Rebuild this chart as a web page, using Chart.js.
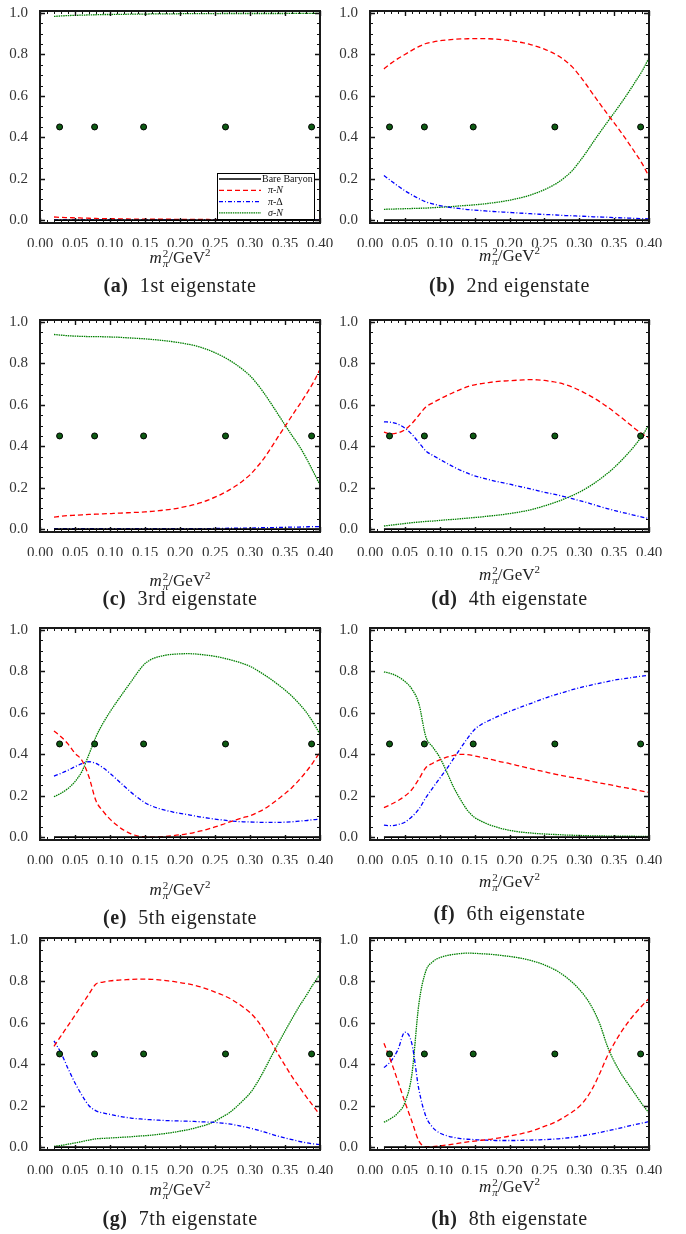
<!DOCTYPE html>
<html lang="en">
<head>
    <meta charset="UTF-8">
    <title>Eigenstate composition</title>
    <script src="https://cdn.jsdelivr.net/npm/chart.js"></script>
    <style>
        body {
            margin: 0;
            background: #fff;
        }
        #fig {
            position: relative;
            width: 686px;
            height: 1234px;
            overflow: hidden;
            font-family: "Liberation Serif", serif;
            color: #222;
        }
        #fig canvas {
            position: absolute;
        }
        .xt, .cap {
            position: absolute;
            text-align: center;
            white-space: nowrap;
            transform: translateY(-50%);
        }
        .xt {
            font-size: 17px;
            line-height: 20px;
        }
        .xt .ss {
            display: inline-block;
            vertical-align: -4px;
            font-size: 11px;
            line-height: 10px;
            text-align: left;
            margin-left: 1px;
        }
        .xt sup {
            font-size: 11px;
            line-height: 0;
            vertical-align: 7px;
        }
        .cap {
            font-size: 20px;
            line-height: 22px;
            letter-spacing: 0.6px;
        }
    </style>
</head>
<body>
<div id="fig"></div>
<script>
// m_pi^2 grid (GeV^2)
const mpi2 = [0.02,0.03,0.04,0.05,0.06,0.07,0.08,0.09,0.10,0.11,0.12,0.13,0.14,0.15,0.16,0.17,0.18,0.19,0.20,0.21,
              0.22,0.23,0.24,0.25,0.26,0.27,0.28,0.29,0.30,0.31,0.32,0.33,0.34,0.35,0.36,0.37,0.38,0.39,0.40];
const bareBaryon = [0,0,0,0,0,0,0,0,0,0,0,0,0,0,0,0,0,0,0,0,0,0,0,0,0,0,0,0,0,0,0,0,0,0,0,0,0,0,0];

// lattice points
const latticeMpi2 = [0.028, 0.078, 0.148, 0.265, 0.388];
const latticeY = [0.45, 0.45, 0.45, 0.45, 0.45];

const xTicks = [0.00, 0.05, 0.10, 0.15, 0.20, 0.25, 0.30, 0.35, 0.40];
const yTicks = [0.0, 0.2, 0.4, 0.6, 0.8, 1.0];

// (a) 1st eigenstate
const piN_a = [0.015,0.013,0.012,0.011,0.010,0.009,0.008,0.007,0.007,0.006,0.006,0.005,0.005,0.005,0.004,0.004,0.004,0.004,0.003,0.003,
               0.003,0.003,0.003,0.002,0.002,0.002,0.002,0.002,0.002,0.002,0.002,0.001,0.001,0.001,0.001,0.001,0.001,0.001,0.001];
const piDelta_a = [0.001,0.001,0.001,0.001,0.001,0.001,0.001,0.001,0.001,0.001,0.001,0.001,0.001,0.001,0.001,0.001,0.001,0.001,0.001,0.001,
                   0.001,0.001,0.001,0.001,0.001,0.001,0.001,0.001,0.001,0.001,0.001,0.001,0.001,0.001,0.001,0.001,0.001,0.001,0.001];
const sigmaN_a = [0.984,0.986,0.988,0.989,0.990,0.991,0.992,0.993,0.993,0.994,0.994,0.995,0.995,0.995,0.996,0.996,0.996,0.996,0.997,0.997,
                  0.997,0.997,0.997,0.997,0.998,0.998,0.998,0.998,0.998,0.998,0.998,0.998,0.998,0.998,0.999,0.999,0.999,0.999,0.999];

// (b) 2nd eigenstate
const piN_b = [0.730,0.757,0.780,0.800,0.820,0.838,0.853,0.860,0.866,0.870,0.873,0.875,0.876,0.877,0.877,0.876,0.874,0.871,0.867,0.862,
               0.856,0.848,0.838,0.826,0.811,0.793,0.770,0.740,0.700,0.655,0.607,0.560,0.514,0.470,0.424,0.376,0.326,0.274,0.210];
const piDelta_b = [0.215,0.190,0.165,0.142,0.122,0.104,0.088,0.078,0.070,0.064,0.059,0.055,0.051,0.048,0.046,0.043,0.041,0.039,0.037,0.035,
                   0.033,0.031,0.029,0.027,0.026,0.024,0.022,0.021,0.019,0.018,0.016,0.015,0.014,0.012,0.011,0.010,0.008,0.007,0.006];
const sigmaN_b = [0.052,0.053,0.054,0.055,0.056,0.057,0.058,0.060,0.062,0.064,0.066,0.069,0.071,0.074,0.077,0.081,0.085,0.090,0.096,0.103,
                  0.111,0.121,0.133,0.147,0.163,0.183,0.208,0.239,0.281,0.327,0.377,0.425,0.472,0.518,0.565,0.614,0.666,0.719,0.784];

// (c) 3rd eigenstate
const piN_c = [0.058,0.062,0.065,0.067,0.069,0.071,0.072,0.074,0.075,0.077,0.078,0.080,0.081,0.083,0.086,0.089,0.093,0.097,0.103,0.110,
               0.118,0.128,0.140,0.154,0.170,0.188,0.209,0.234,0.262,0.300,0.342,0.392,0.445,0.496,0.548,0.598,0.650,0.705,0.772];
const piDelta_c = [0.002,0.002,0.002,0.002,0.002,0.002,0.002,0.002,0.002,0.002,0.002,0.002,0.002,0.002,0.002,0.002,0.002,0.002,0.002,0.002,
                   0.002,0.002,0.002,0.003,0.003,0.004,0.004,0.005,0.005,0.006,0.007,0.007,0.008,0.009,0.010,0.010,0.011,0.012,0.012];
const sigmaN_c = [0.940,0.937,0.934,0.932,0.931,0.930,0.930,0.929,0.928,0.927,0.925,0.923,0.921,0.919,0.916,0.913,0.909,0.905,0.900,0.894,
                  0.887,0.878,0.866,0.852,0.836,0.817,0.795,0.770,0.741,0.702,0.657,0.607,0.555,0.503,0.452,0.403,0.345,0.280,0.213];

// (d) 4th eigenstate
const piN_d = [0.468,0.460,0.465,0.480,0.510,0.550,0.590,0.610,0.628,0.645,0.660,0.675,0.688,0.697,0.703,0.708,0.712,0.715,0.717,0.719,
               0.721,0.722,0.721,0.718,0.713,0.707,0.698,0.686,0.671,0.654,0.635,0.614,0.591,0.566,0.540,0.513,0.485,0.460,0.440];
const piDelta_d = [0.518,0.516,0.507,0.488,0.458,0.418,0.378,0.356,0.337,0.318,0.300,0.284,0.270,0.257,0.248,0.239,0.231,0.224,0.217,0.209,
                   0.202,0.194,0.186,0.178,0.171,0.164,0.156,0.147,0.138,0.129,0.119,0.109,0.099,0.090,0.082,0.074,0.066,0.058,0.051];
const sigmaN_d = [0.015,0.019,0.023,0.027,0.031,0.034,0.037,0.039,0.042,0.045,0.047,0.050,0.053,0.056,0.059,0.063,0.066,0.070,0.075,0.080,
                  0.086,0.093,0.102,0.112,0.123,0.134,0.148,0.162,0.178,0.197,0.218,0.242,0.268,0.297,0.330,0.366,0.405,0.450,0.505];

// (e) 5th eigenstate
const piN_e = [0.513,0.485,0.450,0.405,0.370,0.290,0.175,0.125,0.087,0.057,0.033,0.016,0.005,0.001,0.000,0.001,0.004,0.007,0.011,0.016,
               0.022,0.030,0.039,0.049,0.060,0.072,0.083,0.094,0.103,0.118,0.135,0.158,0.183,0.210,0.240,0.275,0.315,0.360,0.411];
const piDelta_e = [0.295,0.308,0.323,0.340,0.355,0.364,0.356,0.335,0.308,0.278,0.247,0.217,0.190,0.166,0.150,0.138,0.129,0.121,0.115,0.109,
                   0.103,0.097,0.092,0.087,0.083,0.079,0.076,0.074,0.073,0.072,0.071,0.071,0.071,0.072,0.074,0.077,0.080,0.084,0.087];
const sigmaN_e = [0.195,0.212,0.235,0.268,0.318,0.400,0.485,0.550,0.605,0.655,0.703,0.750,0.798,0.838,0.860,0.872,0.879,0.883,0.885,0.886,
                  0.885,0.882,0.878,0.873,0.866,0.858,0.849,0.838,0.825,0.806,0.785,0.762,0.737,0.710,0.680,0.645,0.605,0.555,0.497];

// (f) 6th eigenstate
const piN_f = [0.142,0.158,0.176,0.198,0.230,0.280,0.335,0.357,0.373,0.386,0.395,0.400,0.398,0.392,0.385,0.378,0.370,0.362,0.355,0.347,
               0.339,0.331,0.323,0.316,0.308,0.301,0.294,0.288,0.282,0.275,0.268,0.261,0.255,0.249,0.242,0.236,0.229,0.222,0.216];
const piDelta_f = [0.058,0.055,0.060,0.072,0.098,0.135,0.190,0.238,0.284,0.330,0.380,0.430,0.478,0.520,0.545,0.562,0.578,0.593,0.607,0.620,
                   0.633,0.645,0.658,0.670,0.682,0.692,0.702,0.712,0.721,0.729,0.737,0.744,0.751,0.758,0.763,0.768,0.773,0.778,0.782];
const sigmaN_f = [0.798,0.790,0.775,0.752,0.715,0.645,0.485,0.435,0.385,0.315,0.240,0.180,0.128,0.095,0.076,0.061,0.050,0.040,0.033,0.027,
                  0.023,0.020,0.017,0.015,0.013,0.012,0.010,0.009,0.008,0.007,0.006,0.006,0.005,0.005,0.004,0.004,0.004,0.003,0.003];

// (g) 7th eigenstate
const piN_g = [0.487,0.537,0.587,0.637,0.688,0.740,0.788,0.797,0.803,0.806,0.808,0.810,0.811,0.811,0.810,0.808,0.804,0.800,0.795,0.789,
               0.782,0.773,0.762,0.749,0.736,0.720,0.700,0.677,0.650,0.613,0.565,0.510,0.450,0.395,0.340,0.292,0.245,0.200,0.155];
const piDelta_g = [0.513,0.455,0.380,0.310,0.250,0.200,0.175,0.165,0.158,0.151,0.145,0.140,0.137,0.134,0.132,0.130,0.128,0.127,0.126,0.125,
                   0.124,0.122,0.121,0.119,0.116,0.112,0.106,0.099,0.092,0.083,0.073,0.063,0.053,0.044,0.036,0.028,0.021,0.016,0.012];
const sigmaN_g = [0.004,0.008,0.014,0.020,0.027,0.034,0.040,0.042,0.044,0.046,0.048,0.050,0.053,0.055,0.058,0.062,0.066,0.071,0.077,0.083,
                  0.091,0.100,0.110,0.125,0.145,0.165,0.193,0.225,0.260,0.310,0.370,0.435,0.498,0.560,0.620,0.678,0.730,0.785,0.835];

// (h) 8th eigenstate
const piN_h = [0.502,0.415,0.318,0.218,0.125,0.030,0.002,0.002,0.006,0.010,0.015,0.020,0.025,0.029,0.033,0.037,0.042,0.047,0.053,0.060,
               0.067,0.076,0.087,0.100,0.112,0.128,0.148,0.170,0.196,0.235,0.290,0.360,0.438,0.500,0.555,0.603,0.645,0.683,0.718];
const piDelta_h = [0.384,0.415,0.470,0.555,0.500,0.280,0.150,0.095,0.068,0.055,0.047,0.041,0.038,0.036,0.034,0.033,0.032,0.032,0.032,0.032,
                   0.033,0.034,0.035,0.036,0.038,0.040,0.043,0.047,0.052,0.058,0.064,0.071,0.078,0.085,0.093,0.101,0.109,0.116,0.123];
const sigmaN_h = [0.120,0.138,0.165,0.215,0.350,0.690,0.850,0.895,0.915,0.925,0.931,0.935,0.937,0.936,0.934,0.932,0.929,0.925,0.921,0.916,
                  0.910,0.902,0.892,0.880,0.865,0.847,0.824,0.796,0.762,0.720,0.665,0.590,0.490,0.415,0.355,0.305,0.257,0.208,0.165];

const panels = [
    { tag: 'a', text: '1st eigenstate', piN: piN_a, piDelta: piDelta_a, sigmaN: sigmaN_a, legend: true },
    { tag: 'b', text: '2nd eigenstate', piN: piN_b, piDelta: piDelta_b, sigmaN: sigmaN_b },
    { tag: 'c', text: '3rd eigenstate', piN: piN_c, piDelta: piDelta_c, sigmaN: sigmaN_c },
    { tag: 'd', text: '4th eigenstate', piN: piN_d, piDelta: piDelta_d, sigmaN: sigmaN_d },
    { tag: 'e', text: '5th eigenstate', piN: piN_e, piDelta: piDelta_e, sigmaN: sigmaN_e },
    { tag: 'f', text: '6th eigenstate', piN: piN_f, piDelta: piDelta_f, sigmaN: sigmaN_f },
    { tag: 'g', text: '7th eigenstate', piN: piN_g, piDelta: piDelta_g, sigmaN: sigmaN_g },
    { tag: 'h', text: '8th eigenstate', piN: piN_h, piDelta: piDelta_h, sigmaN: sigmaN_h }
];

// page layout
const colLeft = [40, 370];
const colWidth = [280, 279];
const rowTop = [8, 317, 625, 935];
const plotH = 215;
const titleY = [258, 256, 581, 575, 890, 882, 1190, 1187];
const captionY = [285, 285, 598, 598, 917, 913, 1218, 1218];

const tickFont = { family: 'Liberation Serif', size: 15 };

const legendParts = [
    [['Bare Baryon', '']],
    [['π', 'italic '], ['-', ''], ['N', 'italic ']],
    [['π', 'italic '], ['-', ''], ['Δ', '']],
    [['σ', 'italic '], ['-', ''], ['N', 'italic ']]
];

function drawLegend(chart) {
    const { ctx, chartArea: a } = chart;
    const bx = Math.round(a.right - 103), by = Math.round(a.bottom - 50), bw = 97, bh = 46;
    ctx.fillStyle = '#fff';
    ctx.fillRect(bx, by, bw, bh);
    ctx.setLineDash([]);
    ctx.lineWidth = 1;
    ctx.strokeStyle = '#000';
    ctx.strokeRect(bx + 0.5, by + 0.5, bw, bh);
    const sets = chart.data.datasets.slice(1);
    sets.forEach((ds, k) => {
        const ly = by + 6 + k * 11.3;
        ctx.setLineDash(ds.borderDash || []);
        ctx.strokeStyle = ds.borderColor;
        ctx.lineWidth = ds.borderWidth;
        ctx.beginPath();
        ctx.moveTo(bx + 2, ly);
        ctx.lineTo(bx + 44, ly);
        ctx.stroke();
        let tx = bx + (k === 0 ? 45 : 51);
        ctx.fillStyle = '#111';
        ctx.textBaseline = 'middle';
        legendParts[k].forEach(([s, style]) => {
            ctx.font = style + '10px "Liberation Serif"';
            ctx.fillText(s, tx, ly + 0.5);
            tx += ctx.measureText(s).width;
        });
    });
    ctx.setLineDash([]);
}

// frame with inward ticks on all four sides
const frame = {
    id: 'frame',
    afterDatasetsDraw(chart, args, opts) {
        const { ctx, chartArea: a, scales: { x, y } } = chart;
        ctx.save();
        ctx.setLineDash([]);
        ctx.strokeStyle = '#111';
        [false, true].forEach(major => {
            ctx.lineWidth = major ? 1.4 : 1;
            ctx.beginPath();
            for (let i = 0; i <= 40; i++) {
                if ((i % 5 === 0) !== major) continue;
                const len = major ? 5 : 3;
                const px = Math.round(x.getPixelForValue(i / 100)) + 0.5;
                ctx.moveTo(px, a.bottom); ctx.lineTo(px, a.bottom - len);
                ctx.moveTo(px, a.top); ctx.lineTo(px, a.top + len);
            }
            for (let i = 0; i <= 20; i++) {
                if ((i % 4 === 0) !== major) continue;
                const len = major ? 5 : 3;
                const py = Math.round(y.getPixelForValue(i * 0.05)) + 0.5;
                ctx.moveTo(a.left, py); ctx.lineTo(a.left + len, py);
                ctx.moveTo(a.right, py); ctx.lineTo(a.right - len, py);
            }
            ctx.stroke();
        });
        ctx.lineWidth = 2;
        ctx.strokeStyle = '#1a1a1a';
        ctx.strokeRect(a.left, a.top, a.right - a.left, a.bottom - a.top);
        if (opts.legend) drawLegend(chart);
        ctx.restore();
    }
};

function pts(ys) {
    return mpi2.map((x, k) => ({ x: x, y: ys[k] }));
}

const fig = document.getElementById('fig');

panels.forEach((p, i) => {
    const col = i % 2, row = Math.floor(i / 2);
    const W = 40 + colWidth[col] + 18, H = 10 + plotH + 24;
    const canvas = document.createElement('canvas');
    canvas.width = W;
    canvas.height = H;
    canvas.style.left = (colLeft[col] - 40) + 'px';
    canvas.style.top = (rowTop[row] - 10) + 'px';
    canvas.style.width = W + 'px';
    canvas.style.height = H + 'px';
    fig.appendChild(canvas);

    new Chart(canvas, {
        type: 'line',
        data: {
            datasets: [
                {
                    label: 'lattice',
                    data: latticeMpi2.map((x, k) => ({ x: x, y: latticeY[k] })),
                    showLine: false,
                    pointRadius: 3,
                    pointBackgroundColor: '#0d5a12',
                    pointBorderColor: '#000',
                    pointBorderWidth: 1,
                    order: 0
                },
                { label: 'Bare Baryon', data: pts(bareBaryon), borderColor: '#000', borderWidth: 1.6, order: 1 },
                { label: 'π-N', data: pts(p.piN), borderColor: '#ff0000', borderWidth: 1.3, borderDash: [5, 3], order: 2 },
                { label: 'π-Δ', data: pts(p.piDelta), borderColor: '#0000ff', borderWidth: 1.3, borderDash: [4, 2, 1, 2], order: 3 },
                { label: 'σ-N', data: pts(p.sigmaN), borderColor: '#008000', borderWidth: 1.3, borderDash: [1.5, 0.8], order: 4 }
            ]
        },
        options: {
            responsive: false,
            animation: false,
            devicePixelRatio: 1,
            layout: { padding: { top: 10, right: 18, left: 0, bottom: 0 } },
            elements: {
                line: { cubicInterpolationMode: 'monotone', fill: false },
                point: { radius: 0 }
            },
            plugins: {
                legend: { display: false },
                tooltip: { enabled: false },
                frame: { legend: !!p.legend }
            },
            scales: {
                x: {
                    type: 'linear',
                    min: 0,
                    max: 0.4,
                    grid: { display: false },
                    border: { display: false },
                    afterBuildTicks: s => { s.ticks = xTicks.map(v => ({ value: v })); },
                    afterFit: s => { s.height = 24; },
                    ticks: {
                        autoSkip: false,
                        maxRotation: 0,
                        padding: 4,
                        color: '#333',
                        font: tickFont,
                        callback: v => v.toFixed(2)
                    }
                },
                y: {
                    type: 'linear',
                    min: -0.014,
                    max: 1.01,
                    grid: { display: false },
                    border: { display: false },
                    afterBuildTicks: s => { s.ticks = yTicks.map(v => ({ value: v })); },
                    afterFit: s => { s.width = 40; },
                    ticks: {
                        padding: 4,
                        color: '#333',
                        font: tickFont,
                        callback: v => v.toFixed(1)
                    }
                }
            }
        },
        plugins: [frame]
    });

    const title = document.createElement('div');
    title.className = 'xt';
    title.style.left = colLeft[col] + 'px';
    title.style.width = colWidth[col] + 'px';
    title.style.top = titleY[i] + 'px';
    title.innerHTML = '<i>m</i><span class="ss">2<br><i>π</i></span>/GeV<sup>2</sup>';
    fig.appendChild(title);

    const cap = document.createElement('div');
    cap.className = 'cap';
    cap.style.left = colLeft[col] + 'px';
    cap.style.width = colWidth[col] + 'px';
    cap.style.top = captionY[i] + 'px';
    cap.innerHTML = '<b>(' + p.tag + ')</b>&nbsp; ' + p.text;
    fig.appendChild(cap);
});
</script>
</body>
</html>
